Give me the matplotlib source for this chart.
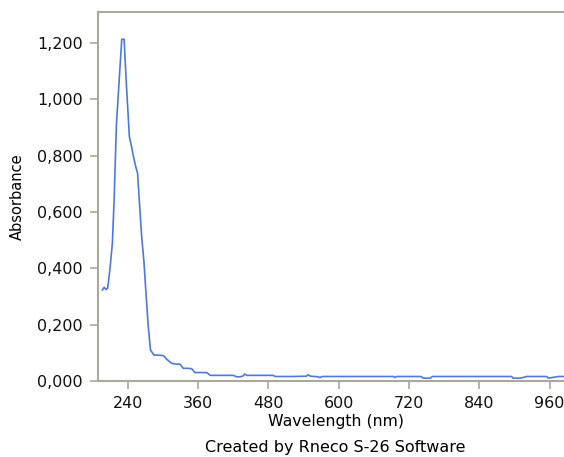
import matplotlib
matplotlib.use("Agg")
import matplotlib.pyplot as plt
from matplotlib.ticker import FuncFormatter

# spectrum
wavelength = [197, 200, 203, 206, 210, 214, 217, 221, 226, 230, 234, 238, 243,
              247, 250, 254, 257, 260, 264, 268, 271, 275, 279, 285, 293, 301,
              308, 315, 322, 329, 335, 342, 349, 355, 365, 375, 381, 400, 420,
              426, 432, 437, 440, 443, 460, 488, 492, 520, 545, 548, 552, 565,
              568, 572, 600, 650, 694, 696, 699, 740, 745, 756, 760, 800, 850,
              895, 898, 910, 921, 955, 958, 975, 990, 1000]
absorbance = [0.323, 0.333, 0.325, 0.330, 0.400, 0.489, 0.643, 0.915, 1.081,
              1.214, 1.214, 1.050, 0.868, 0.830, 0.797, 0.760, 0.738, 0.640,
              0.513, 0.420, 0.323, 0.200, 0.110, 0.092, 0.092, 0.090, 0.075,
              0.063, 0.060, 0.060, 0.045, 0.045, 0.044, 0.030, 0.030, 0.030,
              0.020, 0.020, 0.020, 0.015, 0.015, 0.018, 0.025, 0.020, 0.020,
              0.020, 0.016, 0.016, 0.017, 0.022, 0.017, 0.015, 0.012, 0.016,
              0.016, 0.016, 0.016, 0.012, 0.016, 0.016, 0.010, 0.010, 0.016,
              0.016, 0.016, 0.016, 0.010, 0.010, 0.016, 0.016, 0.010, 0.016,
              0.016, 0.016]
x_ticks = [240, 360, 480, 600, 720, 840, 960]
y_ticks = [0.0, 0.2, 0.4, 0.6, 0.8, 1.0, 1.2]

frame = "#aaa89c"

fig = plt.figure(figsize=(5.64, 4.57), dpi=100)
ax = fig.add_axes([0.1743, 0.1663, 0.8417, 0.807])
ax.plot(wavelength, absorbance, color="#4d78de", lw=1.2)

ax.set_xlim(190, 1000)
ax.set_ylim(0, 1.31)
ax.set_xticks(x_ticks)
ax.set_yticks(y_ticks)
ax.yaxis.set_major_formatter(FuncFormatter(lambda v, p: f"{v:.3f}".replace(".", ",")))

for side in ["left", "bottom", "top"]:
    ax.spines[side].set_color(frame)
    ax.spines[side].set_linewidth(1.5)
ax.spines["right"].set_visible(False)
ax.tick_params(length=6, width=1.2, color=frame, labelsize=11.5,
               labelcolor="#111111", pad=5)

ax.set_ylabel("Absorbance", fontsize=10.5, labelpad=9)
ax.set_xlabel("Wavelength (nm)", fontsize=11.3, labelpad=2)
fig.text(0.594, 0.004, "Created by Rneco S-26 Software", ha="center",
         va="bottom", fontsize=11.5)

fig.savefig("out.png", dpi=100)
